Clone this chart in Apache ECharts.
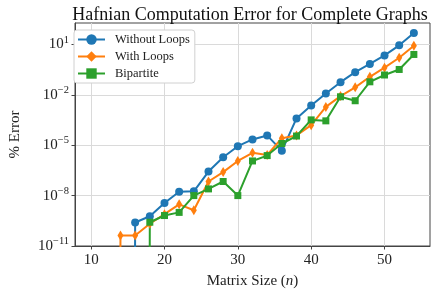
<!DOCTYPE html>
<html><head><meta charset="utf-8">
<script src="https://cdn.jsdelivr.net/npm/echarts@6/dist/echarts.min.js"></script>
<style>html,body{margin:0;padding:0;background:#fff}#c{width:443px;height:295px}</style>
</head><body><div id="c"></div>
<script>
// Matrix sizes n
const sizes = [10,12,14,16,18,20,22,24,26,28,30,32,34,36,38,40,42,44,46,48,50,52,54];
// % error (0 = exactly zero error, clipped like matplotlib's log scale)
const withoutLoops = [0,0,0,2.5e-10,5.9e-10,3.6e-9,1.7e-8,1.8e-8,2.7e-7,1.9e-6,8.7e-6,2.2e-5,3.8e-5,4.6e-6,3.9e-4,2.3e-3,1.2e-2,5.6e-2,0.22,0.68,2.2,8.7,47];
const withLoops    = [0,0,4.2e-11,4.2e-11,2.1e-10,7.8e-10,3.0e-9,1.35e-9,6.9e-8,2.5e-7,1.15e-6,3.5e-6,2.6e-6,2.6e-5,3.8e-5,1.55e-4,1.9e-3,8.3e-3,2.75e-2,0.117,0.41,1.6,8.3];
const bipartite    = [0,0,0,0,2.6e-10,6.5e-10,1.0e-9,1.0e-8,2.5e-8,6.9e-8,1.0e-8,1.15e-6,2.4e-6,1.26e-5,3.5e-5,3.2e-4,2.8e-4,7.6e-3,4.4e-3,5.9e-2,0.15,0.32,2.5];
const xTicks = [10,20,30,40,50];
const yTicks = [1e-11,1e-8,1e-5,1e-2,1e1];

const FONT = 'Liberation Serif';
const clipZero = v => (v > 0 ? v : 1e-300);
const pts = arr => sizes.map((n,i) => [n, clipZero(arr[i])]);
const sup = e => String(e).replace('-', '\u2212');

const chart = echarts.init(document.getElementById('c'), null, {renderer:'canvas'});
const mk = (name, data, color, symbol, size) => ({
  name, type:'line', data: pts(data), symbol, symbolSize: size, showAllSymbol:true,
  lineStyle:{color, width:2}, itemStyle:{color, borderWidth:0}, color, clip:true, z:2
});
chart.setOption({
  animation:false,
  title:{text:'Hafnian Computation Error for Complete Graphs', left:245, textAlign:'center', top:1,
    textStyle:{fontFamily:FONT, fontSize:18, fontWeight:'normal', color:'#111'}},
  grid:{left:67, right:13, top:23, bottom:49, show:true, borderColor:'#444', borderWidth:1, backgroundColor:'transparent'},
  legend:{left:74, top:30, orient:'vertical', itemWidth:27, itemHeight:13, itemGap:4,
    padding:[3,5,3,3], backgroundColor:'#fff', borderColor:'#d0d0d0', borderWidth:1, borderRadius:3,
    textStyle:{fontFamily:FONT, fontSize:12.5, color:'#222', padding:[0,0,0,5]},
    data:['Without Loops','With Loops','Bipartite']},
  xAxis:{type:'value', min:7.8, max:56.2,
    name:'Matrix Size ({i|n})', nameLocation:'middle', nameGap:28,
    nameTextStyle:{fontFamily:FONT, fontSize:15, color:'#222', rich:{i:{fontFamily:FONT, fontStyle:'italic', fontSize:15, color:'#222'}}},
    axisLine:{show:true, lineStyle:{color:'#444', width:1}},
    axisTick:{show:true, customValues:xTicks, length:3.5, lineStyle:{color:'#444'}},
    axisLabel:{customValues:xTicks, fontFamily:FONT, fontSize:15, color:'#222', margin:7},
    splitLine:{show:true, lineStyle:{color:'#dadada', width:1}}},
  yAxis:{type:'log', logBase:10, min:1e-11, max:Math.pow(10,2.27), interval:3,
    name:'% Error', nameLocation:'middle', nameGap:52, nameRotate:90,
    nameTextStyle:{fontFamily:FONT, fontSize:15, color:'#222'},
    axisLine:{show:true, lineStyle:{color:'#444', width:1}},
    axisTick:{show:true, customValues:yTicks, length:3.5, lineStyle:{color:'#444'}},
    axisLabel:{fontFamily:FONT, fontSize:15, color:'#222', margin:6,
      formatter: v => {
        const e = Math.log10(v);
        if (Math.abs(e - Math.round(e)) > 0.01) return '';
        return '{b|10}{s|' + sup(Math.round(e)) + '}';
      },
      rich:{b:{fontFamily:FONT, fontSize:15, color:'#222'},
            s:{fontFamily:FONT, fontSize:10.5, color:'#222', verticalAlign:'top', padding:[0,0,9,0]}}},
    splitLine:{show:true, lineStyle:{color:'#dadada', width:1}},
    minorTick:{show:false}},
  series:[
    mk('Without Loops', withoutLoops, '#1f77b4', 'circle', 8),
    mk('With Loops', withLoops, '#ff7f0e', 'diamond', [6,10]),
    mk('Bipartite', bipartite, '#2ca02c', 'rect', 7)
  ]
});
</script></body></html>
